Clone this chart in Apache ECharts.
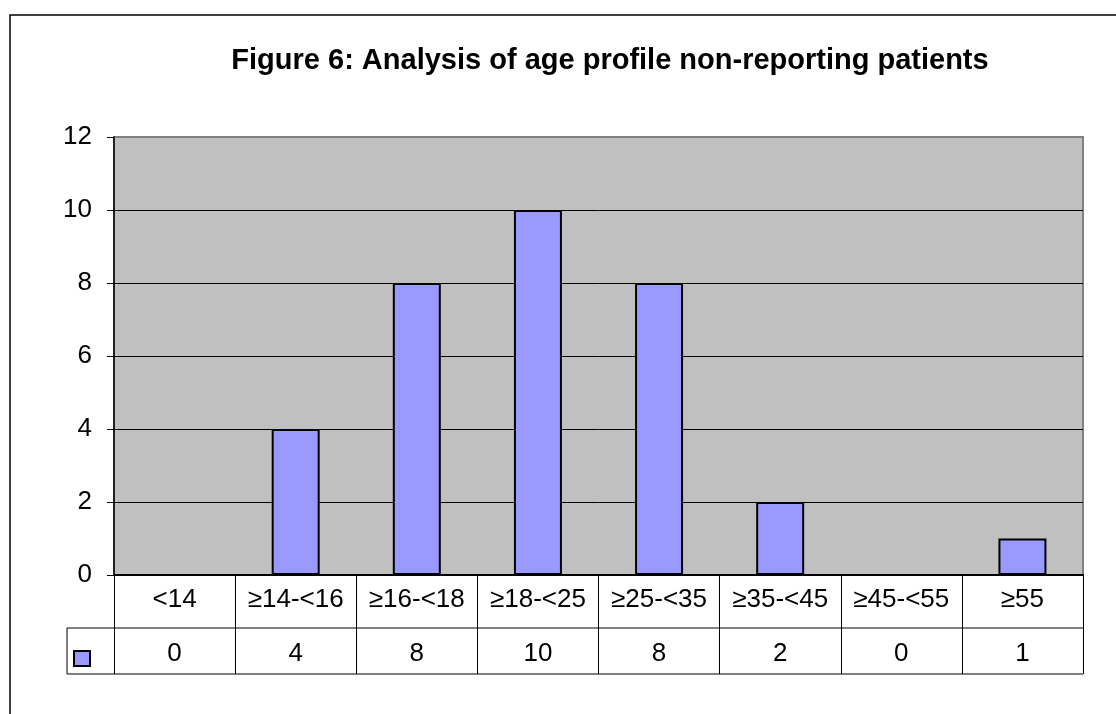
<!DOCTYPE html>
<html>
<head>
<meta charset="utf-8">
<script src="https://cdn.jsdelivr.net/npm/echarts@6/dist/echarts.min.js"></script>
<style>
html,body{margin:0;padding:0;background:#fff;}
#main{width:1116px;height:714px;}
</style>
</head>
<body>
<div id="main"></div>
<script>
const titleText = 'Figure 6: Analysis of age profile non-reporting patients';
const categories = ['<14', '≥14-<16', '≥16-<18', '≥18-<25', '≥25-<35', '≥35-<45', '≥45-<55', '≥55'];
const counts = [0, 4, 8, 10, 8, 2, 0, 1];
const yTicks = [0, 2, 4, 6, 8, 10, 12];

const L = 114, R = 1083, T = 137, B = 575;
const row1 = 628, row2 = 674, legL = 67;
const font = '"Liberation Sans", Arial, sans-serif';

const chart = echarts.init(document.getElementById('main'));
const lineColors = yTicks.map((v, i) => i === yTicks.length - 1 ? '#808080' : '#000');

chart.setOption({
  animation: false,
  backgroundColor: '#fff',
  title: {
    text: titleText,
    left: 605, top: 41, textAlign: 'center',
    textStyle: { fontFamily: font, fontWeight: 'bold', fontSize: 29, color: '#000' }
  },
  grid: {
    left: L, top: T, right: 1116 - R, bottom: 714 - B,
    show: true, backgroundColor: '#C0C0C0', borderColor: '#808080', borderWidth: 2
  },
  xAxis: [{
    type: 'category', data: categories, position: 'bottom',
    axisLine: { lineStyle: { color: '#000', width: 2 } },
    axisTick: { show: true, interval: 0, inside: false, length: row2 - B, lineStyle: { color: '#000', width: 1 } },
    axisLabel: { interval: 0, fontFamily: font, fontSize: 26, color: '#000', margin: 12 }
  }, {
    type: 'category', data: categories, position: 'bottom', offset: 0,
    axisLine: { show: false }, axisTick: { show: false },
    axisLabel: { interval: 0, fontFamily: font, fontSize: 26, color: '#000', margin: 66,
      formatter: (v, i) => String(counts[i]) }
  }],
  yAxis: {
    type: 'value', min: 0, max: 12, interval: 2,
    axisLine: { show: true, lineStyle: { color: '#000', width: 1.5 } },
    axisTick: { show: true, length: 7, lineStyle: { color: '#000' } },
    axisLabel: { fontFamily: font, fontSize: 26, color: '#000', margin: 22 },
    splitLine: { show: true, lineStyle: { color: lineColors, width: 1 } }
  },
  series: [{
    type: 'bar', data: counts, barWidth: 48, xAxisIndex: 0,
    itemStyle: { color: '#9999FF', borderColor: '#000', borderWidth: 2 }
  }],
  graphic: [
    { type: 'rect', shape: { x: 10, y: 15, width: 1200, height: 800 }, style: { fill: 'none', stroke: '#000', lineWidth: 1.5 }, z: -1 },
    { type: 'line', shape: { x1: legL, y1: row1, x2: R, y2: row1 }, style: { stroke: '#000', lineWidth: 1 } },
    { type: 'line', shape: { x1: legL, y1: row2, x2: R, y2: row2 }, style: { stroke: '#000', lineWidth: 1 } },
    { type: 'line', shape: { x1: legL, y1: row1, x2: legL, y2: row2 }, style: { stroke: '#000', lineWidth: 1 } },
    { type: 'rect', shape: { x: 74, y: 651, width: 16, height: 15 }, style: { fill: '#9999FF', stroke: '#000', lineWidth: 2 } }
  ]
});
</script>
</body>
</html>
